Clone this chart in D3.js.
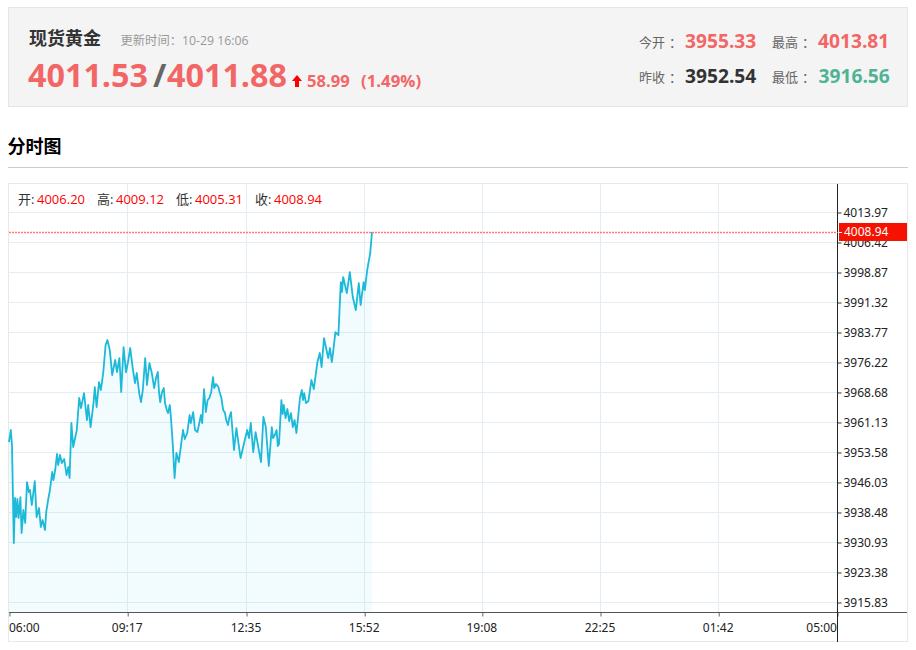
<!DOCTYPE html>
<html lang="zh-CN">

<head>
	<meta charset="UTF-8">
	<script src="https://cdn.jsdelivr.net/npm/d3@7"></script>
	<title>现货黄金 分时图</title>
	<style>
		body {
			margin: 0;
			overflow: hidden;
			background: #fff;
		}

		text {
			font-family: "Open Sans", "Noto Sans CJK SC", sans-serif;
		}

		.axis text {
			font-family: "Noto Sans", "Noto Sans CJK SC", sans-serif;
			font-size: 12px;
			fill: #222;
		}
	</style>
</head>

<body>
	<div id="chart"></div>
	<script>
		// minutes since 06:00
		const minutes = [0, 3, 5, 8, 10, 12, 14, 16, 19, 21, 24, 27, 30, 33, 35, 38, 43, 46, 50, 53, 56, 60, 62, 66, 68, 72, 74, 77, 80, 82, 85, 88, 92, 96, 99, 101,
			104, 107, 113, 117, 120, 125, 130, 132, 136, 141, 143, 146, 150, 153, 157, 161, 164, 168, 172, 177, 180, 184, 187, 191, 195, 199, 202, 206, 210, 213, 217, 220, 223, 227, 230, 234, 238,
			242, 245, 248, 250, 252, 255, 258, 260, 263, 265, 268, 270, 273, 276, 279, 283, 290, 293, 297, 301,
			303, 307, 310, 314, 320, 322, 325,
			328, 331, 334, 337, 340, 342, 345, 349, 351, 354, 357, 360, 362, 365, 367, 370,
			375, 379, 386, 393, 397, 400, 403, 407, 411, 420, 424, 428, 433,
			438, 440, 443, 446, 448, 450,
			454, 456, 458, 461, 464, 467, 470, 473, 476, 479, 482, 485, 488, 490, 492, 495, 499,
			504, 508, 514, 518, 521, 525, 532, 535, 538, 540, 544, 549, 553, 555, 557, 563, 568, 573, 578, 583, 586, 591, 593, 597, 602, 605];
		const prices = [3956.09, 3959.11, 3955.33, 3930.67, 3942.00, 3937.22, 3941.80, 3936.96, 3942.20, 3933.19, 3938.98, 3935.71, 3946.02, 3943.51, 3944.01, 3940.24, 3946.27, 3937.22, 3939.48, 3934.70, 3936.46, 3933.95, 3938.47, 3942.25, 3943.76, 3948.54, 3946.53, 3949.04, 3953.07, 3950.30, 3952.82, 3950.80, 3951.81, 3947.78, 3949.80, 3947.03,
			3960.87, 3954.83, 3959.11, 3967.16, 3964.64, 3968.41, 3961.62, 3965.40, 3959.86, 3966.15, 3969.92, 3964.89, 3971.18, 3969.17, 3973.45, 3980.49, 3981.75, 3979.23, 3972.94, 3976.72, 3973.70, 3977.22, 3968.67, 3979.99, 3973.60, 3976.80, 3979.74, 3974.96, 3970.93, 3973.45, 3968.41, 3966.15, 3969.17, 3977.22, 3970.43, 3975.96, 3973.45,
			3969.67, 3972.19, 3973.70, 3968.67, 3966.15, 3968.67, 3969.67, 3965.90, 3964.14, 3963.38, 3965.40, 3962.12, 3955.33, 3947.03, 3953.32, 3951.05, 3959.11, 3956.84, 3958.35, 3962.88,
			3960.87, 3963.63, 3959.11, 3958.60, 3962.88, 3960.87, 3969.42,
			3963.63, 3966.65, 3967.16, 3968.67, 3972.44, 3969.67, 3970.68, 3969.92, 3968.67, 3967.16, 3964.14, 3963.38, 3961.62, 3960.36, 3962.12, 3963.63,
			3954.07, 3959.61, 3952.06, 3956.59, 3959.11, 3957.09, 3960.87, 3953.57, 3958.60, 3951.05, 3962.38, 3959.86, 3950.05,
			3959.86, 3957.09, 3957.85, 3959.11, 3955.08, 3955.58,
			3966.65, 3963.13, 3965.40, 3962.12, 3964.39, 3961.37, 3963.38, 3959.86, 3961.62, 3958.35, 3962.63, 3967.16, 3969.17, 3966.65, 3968.41, 3965.90, 3966.40,
			3971.69, 3969.42, 3976.21, 3978.48, 3974.96, 3982.25, 3977.22, 3979.74, 3976.21, 3978.48, 3983.76, 3983.01, 3996.34, 3993.83, 3997.60, 3993.57, 3998.86, 3992.57, 3989.30, 3996.09, 3990.56, 3996.34, 3994.33, 3999.36, 4003.64, 4008.94];

		const priceTicks = [4013.97, 4006.42, 3998.87, 3991.32, 3983.77, 3976.22, 3968.68, 3961.13, 3953.58, 3946.03, 3938.48, 3930.93, 3923.38, 3915.83];
		const timeTicks = [0, 197, 395, 592, 788, 985, 1182, 1380];
		const timeLabels = ['06:00', '09:17', '12:35', '15:52', '19:08', '22:25', '01:42', '05:00'];
		const lastPrice = 4008.94;
		const ohlcNames = ['开:', '高:', '低:', '收:'];
		const ohlcValues = ['4006.20', '4009.12', '4005.31', '4008.94'];

		const RED = '#f26666', GREEN = '#4fb394', DARK = '#333';

		const svg = d3.select('#chart')
			.append('svg')
			.attr('width', 916)
			.attr('height', 650)
			.style('display', 'block');

		function label(x, y, str, size, fill, weight, anchor) {
			return svg.append('text')
				.attr('x', x).attr('y', y)
				.attr('font-size', size)
				.attr('fill', fill)
				.attr('font-weight', weight || 'normal')
				.attr('text-anchor', anchor || 'start')
				.text(str);
		}

		// colon sits in the middle of its cell in the reference, nudge it over
		function fieldName(x, y, str) {
			label(x, y, str.slice(0, -1), 13, '#666')
				.append('tspan')
				.attr('dx', 4)
				.text(str.slice(-1));
		}

		// quote panel
		svg.append('rect')
			.attr('x', 8.5).attr('y', 7.5).attr('width', 899).attr('height', 99)
			.attr('fill', '#f4f4f4').attr('stroke', '#e5e5e5');

		label(29, 45, '现货黄金', 18, DARK, 'bold');
		label(120.5, 45, '更新时间：10-29 16:06', 12.3, '#999');
		label(28, 87, '4011.53', 32.3, RED, 'bold');
		label(153, 87, '/', 32.3, '#666', 'bold');
		label(167, 87, '4011.88', 32.3, RED, 'bold');
		svg.append('path')
			.attr('d', 'M297 75l5 6h-3v6h-4v-6h-3z')
			.attr('fill', '#f00');
		label(307, 87, '58.99', 16.6, RED, 'bold');
		label(361, 87, '(1.49%)', 16.8, RED, 'bold');

		fieldName(639, 47, '今开：');
		label(685, 47.5, '3955.33', 19.2, RED, 'bold');
		fieldName(772, 47, '最高：');
		label(818, 47.5, '4013.81', 19.2, RED, 'bold');
		fieldName(639, 82, '昨收：');
		label(685, 82.5, '3952.54', 19.2, DARK, 'bold');
		fieldName(772, 82, '最低：');
		label(818.5, 82.5, '3916.56', 19.2, GREEN, 'bold');

		// section title
		label(7.5, 153, '分时图', 18, '#000', 'bold');
		svg.append('line')
			.attr('x1', 8).attr('x2', 908).attr('y1', 167.5).attr('y2', 167.5)
			.attr('stroke', '#ccc');

		// chart frame
		svg.append('rect')
			.attr('x', 8.5).attr('y', 183.5).attr('width', 899).attr('height', 458)
			.attr('fill', '#fff').attr('stroke', '#e8e8e8');

		const x = d3.scaleLinear().domain([0, 1380]).range([9, 837]);
		const y = d3.scaleLinear().domain([3915.83, 4013.97]).range([602, 212]);

		const plotTop = 184, plotBottom = 612, plotRight = 837.5;

		// grid
		svg.append('g').selectAll('line')
			.data(priceTicks)
			.enter().append('line')
			.attr('x1', 9).attr('x2', plotRight)
			.attr('y1', d => Math.round(y(d)) + 0.5).attr('y2', d => Math.round(y(d)) + 0.5)
			.attr('stroke', '#e3eef4');
		svg.append('g').selectAll('line')
			.data(timeTicks.slice(1, -1))
			.enter().append('line')
			.attr('x1', d => Math.round(x(d)) + 0.5).attr('x2', d => Math.round(x(d)) + 0.5)
			.attr('y1', plotTop).attr('y2', plotBottom)
			.attr('stroke', '#e3eef4');

		// price area and line
		const series = minutes.map((m, i) => ({ m: m, p: prices[i] }));
		svg.append('path')
			.datum(series)
			.attr('fill', 'rgba(28, 185, 217, 0.06)')
			.attr('d', d3.area().x(d => x(d.m)).y0(plotBottom).y1(d => y(d.p)));
		svg.append('path')
			.datum(series)
			.attr('fill', 'none')
			.attr('stroke', '#1cb9d9')
			.attr('stroke-width', 1.8)
			.attr('stroke-linejoin', 'round')
			.attr('d', d3.line().x(d => x(d.m)).y(d => y(d.p)));

		// last price marker
		svg.append('line')
			.attr('x1', 9).attr('x2', plotRight)
			.attr('y1', Math.round(y(lastPrice)) + 0.5).attr('y2', Math.round(y(lastPrice)) + 0.5)
			.attr('stroke', '#f77')
			.attr('stroke-width', 1.5)
			.attr('stroke-dasharray', '2,1');

		// axes
		const xAxis = svg.append('g')
			.attr('class', 'axis')
			.attr('transform', `translate(0.5,${plotBottom + 0.5})`)
			.call(d3.axisBottom(x).tickValues(timeTicks).tickFormat((d, i) => timeLabels[i]).tickSize(4).tickSizeOuter(0));
		xAxis.select('.domain').remove();
		xAxis.selectAll('line').attr('stroke', '#666');
		xAxis.selectAll('text').attr('dy', 0).attr('y', 19).attr('dx', -1)
			.attr('text-anchor', (d, i) => i === 0 ? 'start' : i === timeTicks.length - 1 ? 'end' : 'middle');
		svg.append('line')
			.attr('x1', 9).attr('x2', 907).attr('y1', plotBottom + 0.5).attr('y2', plotBottom + 0.5)
			.attr('stroke', '#555');

		const yAxis = svg.append('g')
			.attr('class', 'axis')
			.attr('transform', `translate(${plotRight},0.5)`)
			.call(d3.axisRight(y).tickValues(priceTicks).tickFormat(d3.format('.2f')).tickSize(4).tickPadding(2).tickSizeOuter(0));
		yAxis.select('.domain').remove();
		yAxis.selectAll('line').attr('stroke', '#333');
		svg.append('line')
			.attr('x1', plotRight).attr('x2', plotRight).attr('y1', plotTop).attr('y2', 642)
			.attr('stroke', '#222');

		// last price tag
		svg.append('rect')
			.attr('x', 839).attr('y', y(lastPrice) - 9).attr('width', 68).attr('height', 18)
			.attr('fill', '#f51200');
		svg.append('line')
			.attr('x1', plotRight).attr('x2', 842)
			.attr('y1', y(lastPrice) + 0.5).attr('y2', y(lastPrice) + 0.5)
			.attr('stroke', '#fff');
		svg.append('text')
			.attr('x', 844).attr('y', y(lastPrice) + 4.5)
			.attr('font-size', 12)
			.attr('fill', '#fff')
			.style('font-family', '"Noto Sans", sans-serif')
			.text(d3.format('.2f')(lastPrice));

		// OHLC readout
		const ohlcStep = 79;
		ohlcNames.forEach((name, i) => {
			label(18 + i * ohlcStep, 204, name, 13, DARK);
			label(37 + i * ohlcStep, 204, ohlcValues[i], 13, '#f00');
		});
	</script>
</body>

</html>
